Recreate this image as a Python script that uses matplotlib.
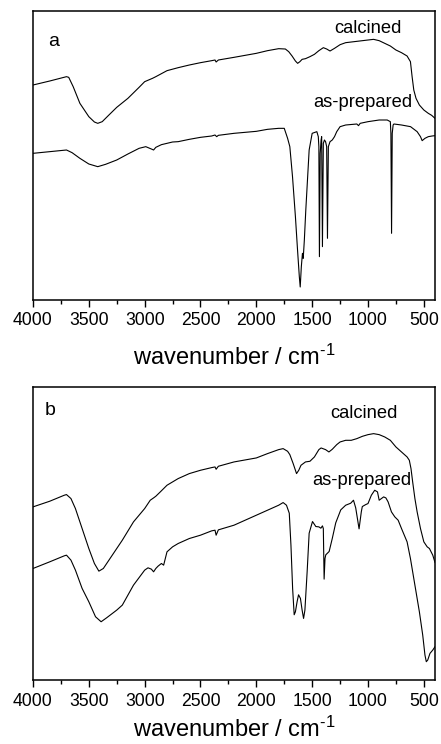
import matplotlib
matplotlib.use("Agg")
import matplotlib.pyplot as plt

plt.rcParams['font.family'] = ['Liberation Sans', 'DejaVu Sans']
plt.rcParams['mathtext.fontset'] = 'custom'
plt.rcParams['mathtext.rm'] = 'Liberation Sans'
plt.rcParams['mathtext.default'] = 'regular'

# panel a, calcined : wavenumber (cm-1), intensity (a.u.)
wn_a_cal = [4000, 3850, 3700, 3680, 3640, 3580, 3500, 3450, 3420, 3380, 3320, 3250, 3150, 3050, 3000,
            2930, 2900, 2800, 2700, 2600, 2500, 2400, 2370, 2360, 2340, 2200, 2100, 2000, 1900, 1800,
            1740, 1710, 1680, 1650, 1630, 1610, 1590, 1560, 1520, 1480, 1440, 1400, 1370, 1340, 1300,
            1250, 1200, 1100, 1000, 950, 900, 850, 800, 750, 700, 650, 620, 605, 590, 570, 540, 500,
            460, 430, 400]
y_a_cal = [645, 657, 670, 668, 640, 590, 550, 534, 530, 535, 555, 578, 605, 638, 655,
           665, 670, 688, 697, 705, 712, 718, 720, 714, 720, 728, 734, 740, 748, 754,
           753, 745, 732, 717, 710, 715, 722, 724, 730, 737, 748, 757, 753, 747, 755,
           766, 772, 776, 780, 782, 778, 770, 762, 750, 742, 732, 715, 670, 630, 605, 585, 570,
           560, 554, 545]

# panel a, as-prepared
wn_a_pre = [4000, 3850, 3700, 3650, 3580, 3500, 3420, 3350, 3250, 3150, 3050, 2990, 2940, 2920, 2900,
            2850, 2750, 2700, 2600, 2500, 2400, 2370, 2355, 2340, 2200, 2000, 1900, 1800, 1750, 1720,
            1700, 1676, 1650, 1631, 1615, 1607, 1597, 1587, 1580, 1570, 1557, 1527, 1500, 1458, 1445,
            1440, 1435, 1428, 1420, 1415, 1408, 1400, 1390, 1380, 1370, 1363, 1355, 1340, 1320, 1300,
            1280, 1250, 1200, 1100, 1085, 1070, 1000, 900, 828, 800, 795, 789, 783, 775, 768, 700,
            619, 560, 530, 515, 490, 460, 426, 400]
y_a_pre = [440, 445, 450, 442, 425, 408, 400, 407, 420, 438, 455, 460, 453, 450, 458,
           466, 474, 475, 482, 488, 492, 495, 490, 494, 500, 506, 512, 515, 515, 485,
           460, 370, 250, 150, 70, 39, 100, 140, 125, 180, 270, 450, 500, 505, 490,
           460, 130, 440, 480, 490, 160, 470, 480, 475, 460, 185, 460, 475, 480, 490,
           505, 520, 525, 528, 523, 530, 535, 540, 540, 535, 500, 200, 500, 525, 528, 525,
           520, 505, 490, 478, 485, 490, 492, 493]

# panel b, calcined
wn_b_cal = [4000, 3850, 3720, 3700, 3660, 3620, 3560, 3500, 3450, 3410, 3370, 3300, 3200, 3100, 3000,
            2950, 2920, 2900, 2860, 2800, 2700, 2600, 2500, 2400, 2370, 2360, 2340, 2200, 2000, 1900,
            1800, 1760, 1720, 1700, 1670, 1640, 1620, 1600, 1560, 1520, 1480, 1440, 1420, 1380, 1350,
            1320, 1280, 1250, 1200, 1150, 1100, 1050, 1000, 950, 900, 850, 800, 750, 700, 650, 630,
            615, 600, 580, 560, 530, 500, 470, 450, 420, 400]
y_b_cal = [520, 537, 555, 557, 545, 515, 455, 395, 350, 327, 335, 370, 420, 475, 515,
           540, 547, 552, 565, 585, 605, 620, 630, 638, 640, 633, 642, 655, 667, 680,
           692, 695, 687, 677, 650, 620, 630, 645, 655, 657, 670, 692, 697, 692, 685,
           693, 707, 715, 720, 720, 725, 732, 737, 740, 737, 730, 720, 700, 685, 670, 660,
           635, 595, 545, 505, 455, 415, 400, 395, 375, 353]

# panel b, as-prepared
wn_b_pre = [4000, 3850, 3720, 3700, 3660, 3620, 3560, 3500, 3440, 3390, 3340, 3250, 3200, 3100, 3000,
            2970, 2940, 2920, 2900, 2880, 2850, 2830, 2800, 2750, 2700, 2600, 2500, 2400, 2370, 2360,
            2340, 2200, 2000, 1900, 1800, 1760, 1730, 1705, 1690, 1675, 1661, 1650, 1635, 1622, 1605,
            1590, 1577, 1565, 1545, 1527, 1497, 1467, 1440, 1422, 1408, 1400, 1393, 1385, 1378, 1348,
            1320, 1289, 1244, 1200, 1155, 1130, 1110, 1080, 1060, 1051, 1020, 1000, 970, 940, 915,
            900, 880, 860, 840, 820, 790, 760, 730, 700, 650, 620, 600, 570, 540, 510, 490, 478,
            465, 445, 420, 400]
y_b_pre = [335, 355, 373, 375, 360, 330, 275, 235, 190, 175, 187, 210, 225, 285, 330,
           337, 333, 325, 335, 342, 350, 345, 385, 400, 410, 425, 435, 448, 450, 435,
           451, 465, 495, 510, 525, 533, 525, 501, 405, 275, 196, 205, 235, 256, 245,
           210, 185, 210, 325, 441, 476, 461, 460, 456, 463, 455, 303, 365, 376, 386,
           425, 472, 511, 525, 531, 540, 517, 454, 505, 521, 527, 530, 555, 570, 565,
           540, 545, 550, 547, 535, 505, 490, 480, 455, 415, 365, 325, 265, 205, 135, 75, 55,
           60, 80, 90, 100]

fig = plt.figure(figsize=(4.41, 7.44), dpi=100)
ax1 = fig.add_axes([0.0748, 0.5968, 0.9116, 0.3884])
ax2 = fig.add_axes([0.0748, 0.0860, 0.9116, 0.3938])

# label positions in figure pixels (x, baseline y)
panels = [
    (ax1, wn_a_cal, y_a_cal, wn_a_pre, y_a_pre, 867, 'a', 11,
     (54, 46), (368, 33), (363, 107)),
    (ax2, wn_b_cal, y_b_cal, wn_b_pre, y_b_pre, 880, 'b', 5,
     (50, 415), (364, 418), (362, 485)),
]

for ax, xc, yc, xp, yp, ytop, lab, lpad, pl, pc, pp in panels:
    ax.plot(xc, yc, color='black', lw=0.8)
    ax.plot(xp, yp, color='black', lw=0.8)
    ax.set_xlim(4000, 400)
    ax.set_ylim(0, ytop)
    ax.set_yticks([])
    ax.set_xticks([4000, 3500, 3000, 2500, 2000, 1500, 1000, 500])
    ax.set_xticks(range(3750, 400, -500), minor=True)
    ax.tick_params(axis='x', which='major', direction='out', length=5, width=1,
                   labelsize=12.7, pad=4, top=False)
    ax.tick_params(axis='x', which='minor', direction='out', length=3, width=1, top=False)
    for s in ax.spines.values():
        s.set_linewidth(1.1)
    ax.set_xlabel(r'wavenumber / cm$^{\text{-}1}$', fontsize=17, labelpad=lpad)
    ax.text(pl[0] / 441, 1 - pl[1] / 744, lab, transform=fig.transFigure,
            ha='center', va='baseline', fontsize=14)
    ax.text(pc[0] / 441, 1 - pc[1] / 744, 'calcined', transform=fig.transFigure,
            ha='center', va='baseline', fontsize=13.2)
    ax.text(pp[0] / 441, 1 - pp[1] / 744, 'as-prepared', transform=fig.transFigure,
            ha='center', va='baseline', fontsize=13.2)

fig.savefig('out.png', dpi=100)
